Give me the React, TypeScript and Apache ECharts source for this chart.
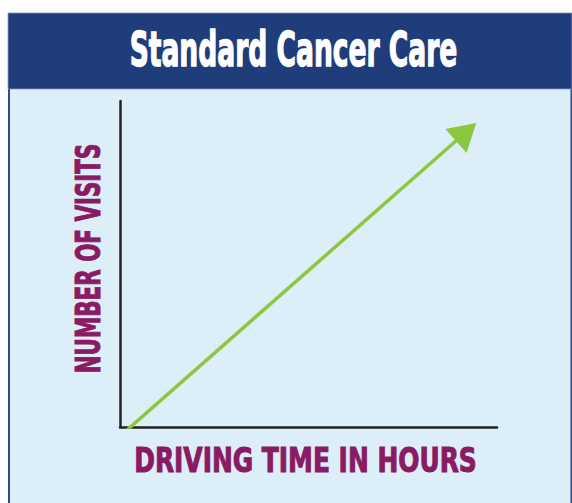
import React, { useEffect, useRef } from "react";
import * as echarts from "echarts";

const titleText = "Standard Cancer Care";
const xAxisTitle = "DRIVING TIME IN HOURS";
const yAxisTitle = "NUMBER OF VISITS";
const drivingTime = [0.13, 9.18];
const visits = [-0.15, 9.05];

export default function App() {
  const ref = useRef<HTMLDivElement>(null);
  useEffect(() => {
    const chart = echarts.init(ref.current!, null, { renderer: "svg" });
    const font = "bold 34px 'DejaVu Sans Condensed', 'DejaVu Sans', sans-serif";
    chart.setOption({
      animation: false,
      backgroundColor: "#ffffff",
      graphic: [
        { type: "rect", shape: { x: 8, y: 88, width: 564, height: 420 }, style: { fill: "#DCEEF8" }, z: -10 },
        { type: "rect", shape: { x: 8, y: 88, width: 2, height: 420 }, style: { fill: "#2B4A8A" }, z: -9 },
        { type: "rect", shape: { x: 570.5, y: 88, width: 2, height: 420 }, style: { fill: "#2B4A8A" }, z: -9 },
        { type: "rect", shape: { x: 8, y: 13, width: 564, height: 76 }, style: { fill: "#1F3D7A", stroke: "#8C98B5", lineWidth: 0.8 }, z: -9 },
        {
          type: "text", x: 293.5, y: 49, scaleX: 0.615,
          style: { text: titleText, font: "bold 48px 'DejaVu Sans Condensed', 'DejaVu Sans', sans-serif", fill: "#ffffff", stroke: "#ffffff", lineWidth: 1.3, textAlign: "center", textVerticalAlign: "middle" },
        },
        {
          type: "text", x: 305.5, y: 460, scaleX: 0.815,
          style: { text: xAxisTitle, font, fill: "#8A1A63", stroke: "#8A1A63", lineWidth: 1, textAlign: "center", textVerticalAlign: "middle" },
        },
        {
          type: "text", x: 88.5, y: 258.5, rotation: Math.PI / 2, scaleX: 0.7,
          style: { text: yAxisTitle, font, fill: "#8A1A63", stroke: "#8A1A63", lineWidth: 1, textAlign: "center", textVerticalAlign: "middle" },
        },
      ],
      grid: { left: 120, top: 101, right: 75, bottom: 76, containLabel: false },
      xAxis: {
        type: "value", min: 0, max: 10,
        axisLine: { show: true, onZero: false, lineStyle: { color: "#222", width: 2.5 } },
        axisTick: { show: false }, axisLabel: { show: false }, splitLine: { show: false },
      },
      yAxis: {
        type: "value", min: 0, max: 10,
        axisLine: { show: true, onZero: false, lineStyle: { color: "#222", width: 2.5 } },
        axisTick: { show: false }, axisLabel: { show: false }, splitLine: { show: false },
      },
      series: [
        {
          type: "line",
          data: drivingTime.map((x, i) => ({
            value: [x, visits[i]],
            symbol: i === drivingTime.length - 1 ? "triangle" : "none",
            symbolSize: [32, 27],
            symbolRotate: -48.6,
          })),
          showSymbol: true,
          lineStyle: { color: "#8DC63F", width: 3.5 },
          itemStyle: { color: "#8DC63F" },
          z: 5,
        },
      ],
    });
    return () => chart.dispose();
  }, []);
  return <div ref={ref} style={{ width: 572, height: 503, position: "absolute", left: 0, top: 0 }} />;
}
